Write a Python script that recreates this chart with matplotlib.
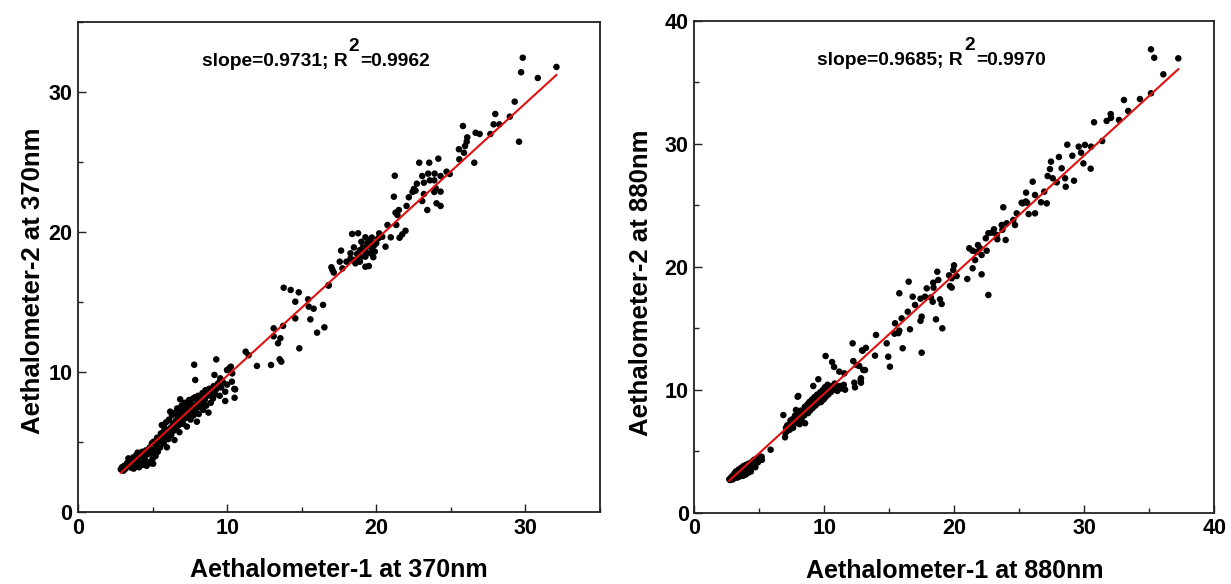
import matplotlib
matplotlib.use("Agg")
import matplotlib.pyplot as plt
from matplotlib.ticker import MultipleLocator

# ---------------- data ----------------
# Panel A: 370 nm
x370 = [2.87, 2.95, 3.05, 3.1, 3.2, 3.3, 3.38, 3.45, 3.55, 3.6, 3.7, 3.74, 3.8, 3.9, 3.95, 4.0, 4.05, 4.1, 4.2, 4.25,
        4.3, 4.39, 4.4, 4.5, 4.55, 4.6, 4.65, 4.75, 4.8, 4.84, 4.9, 4.95, 5.0, 5.04, 5.06, 5.1, 5.2, 5.25, 5.3, 5.35,
        5.45, 5.5, 5.55, 5.62, 5.65, 5.7, 5.75, 5.8, 5.85, 5.9, 5.96, 6.0, 6.05, 6.1, 6.18, 6.2, 6.25, 6.3, 6.35, 6.4,
        6.47, 6.5, 6.55, 6.6, 6.65, 6.7, 6.75, 6.8, 6.85, 6.85, 6.9, 6.95, 7.0, 7.05, 7.1, 7.15, 7.2, 7.25, 7.3, 7.35,
        7.4, 7.45, 7.5, 7.55, 7.6, 7.65, 7.7, 7.75, 7.8, 7.85, 7.9, 7.97, 8.0, 8.05, 8.1, 8.15, 8.2, 8.3, 8.35, 8.4,
        8.5, 8.55, 8.6, 8.7, 8.75, 8.8, 8.87, 8.9, 9.0, 9.05, 9.1, 9.15, 9.2, 9.3, 9.4, 9.5, 9.54, 9.6, 9.7, 9.87,
        9.87, 9.99, 10.0, 10.14, 10.25, 10.32, 10.34, 10.48, 10.5, 10.54, 7.79, 7.86, 9.27,
        11.24, 11.44, 12.0, 12.94, 13.12, 13.12, 13.41, 13.57, 13.75, 13.52, 13.63, 13.79, 14.26, 14.8, 14.57, 14.57,
        14.84, 15.43, 15.47, 15.8, 15.58, 16.43, 16.52, 16.03, 16.81, 16.99, 17.15, 17.73, 17.64, 17.55, 18.0, 18.27,
        18.27, 18.49, 18.71, 18.71, 18.9, 18.6, 19.0, 19.27, 19.27, 19.5, 19.61, 19.9, 19.72, 19.88, 19.4, 19.61,
        19.27, 18.38, 18.78, 20.13, 20.4, 20.62, 20.97, 21.56, 21.74, 21.96, 20.75, 21.34, 21.29, 21.42, 21.51, 21.18,
        21.24, 22.03, 22.18, 22.43, 22.52, 22.63, 22.72, 22.88, 23.08, 23.19, 23.19, 23.08, 23.42, 23.48, 23.55, 23.59,
        23.89, 23.91, 23.98, 23.89, 24.04, 24.16, 24.31, 24.31, 24.31, 24.71, 24.92, 25.54, 25.57, 25.88, 25.95, 26.06,
        26.1, 25.81, 26.57, 26.66, 26.93, 27.65, 27.87, 28.25, 27.98, 28.95, 29.28, 29.57, 29.71, 29.82, 30.83, 32.08,
        18.9, 19.1, 19.3, 19.5, 19.0, 18.5, 19.7, 20.0, 20.2, 19.8, 16.8, 17.06]
y370 = [3.05, 3.2, 2.95, 3.3, 3.1, 3.5, 3.83, 3.3, 3.6, 3.15, 3.9, 3.1, 3.45, 4.05, 3.3, 4.24, 3.7, 3.2, 3.95, 3.45,
        4.3, 3.37, 4.0, 3.7, 4.4, 3.3, 4.1, 3.55, 4.6, 3.48, 4.2, 4.9, 3.8, 3.45, 5.02, 4.45, 4.0, 4.8, 5.3, 4.3,
        5.05, 4.6, 5.6, 6.21, 5.2, 5.7, 4.9, 6.0, 5.45, 6.4, 4.62, 5.8, 5.2, 6.6, 7.17, 6.0, 5.5, 6.9, 6.3, 5.8,
        5.14, 7.1, 6.5, 6.0, 7.4, 6.8, 6.2, 5.7, 8.05, 7.2, 6.6, 7.6, 6.9, 6.3, 7.3, 7.8, 6.7, 7.1, 6.1, 7.6,
        6.9, 8.0, 7.3, 6.6, 7.7, 7.1, 8.1, 6.9, 7.5, 8.2, 7.2, 6.45, 7.8, 8.3, 7.0, 7.5, 8.1, 7.7, 8.5, 7.3,
        8.0, 8.7, 7.6, 8.3, 7.1, 8.8, 8.48, 7.8, 8.6, 8.1, 9.0, 9.79, 8.4, 8.8, 9.2, 8.3, 9.55, 8.9, 9.3, 8.59,
        7.93, 10.14, 9.1, 10.26, 10.38, 9.31, 9.9, 8.79, 8.16, 8.76, 10.52, 9.43, 10.9,
        11.45, 11.2, 10.43, 10.5, 13.12, 12.55, 12.05, 12.41, 13.29, 10.91, 10.74, 16.02, 15.86, 15.69, 15.02, 13.83,
        11.69, 15.19, 14.67, 14.52, 13.76, 14.79, 13.19, 12.81, 16.21, 17.48, 17.1, 17.4, 18.67, 17.88, 17.88, 18.48,
        18.1, 18.0, 18.43, 18.0, 17.88, 17.76, 18.24, 18.24, 17.52, 17.57, 18.48, 18.6, 18.83, 19.07, 19.2, 19.43,
        19.62, 19.86, 19.91, 19.55, 19.66, 18.95, 19.62, 19.59, 19.83, 20.09, 20.5, 20.5, 21.38, 21.21, 21.57, 22.52,
        24.02, 21.86, 22.48, 22.86, 23.07, 22.95, 23.45, 24.95, 24.0, 23.52, 22.71, 22.21, 21.57, 24.17, 24.95, 23.69,
        23.69, 24.17, 23.12, 22.86, 22.05, 25.24, 24.0, 22.88, 21.86, 24.31, 24.14, 25.91, 25.19, 25.66, 26.14, 26.45,
        26.76, 27.57, 24.95, 27.09, 27.0, 27.0, 27.69, 27.69, 28.43, 28.24, 29.31, 26.45, 31.41, 32.45, 31.0, 31.79,
        18.7, 18.9, 18.6, 19.0, 19.3, 18.9, 19.6, 19.2, 19.9, 18.2, 16.17, 17.3]

# Panel B: 880 nm
x880 = [2.69, 2.75, 2.85, 2.95, 3.0, 3.05, 3.1, 3.15, 3.2, 3.25, 3.3, 3.35, 3.4, 3.45, 3.5, 3.55, 3.6, 3.65, 3.7, 3.75,
        3.8, 3.85, 3.9, 3.95, 4.0, 4.05, 4.1, 4.15, 4.2, 4.3, 4.35, 4.45, 4.5, 4.6, 4.7, 4.8, 4.9, 5.05, 5.18, 5.2,
        5.87, 6.85, 6.98, 7.0, 7.05, 7.1, 7.15, 7.2, 7.3, 7.35, 7.4, 7.5, 7.55, 7.6, 7.7, 7.75, 7.82, 7.85, 7.9, 8.0,
        7.95, 8.0, 8.05, 8.1, 8.15, 8.2, 8.25, 8.3, 8.4, 8.45, 8.5, 8.52, 8.55, 8.6, 8.7, 8.75, 8.8, 8.85, 8.9, 9.0,
        9.05, 9.1, 9.15, 9.2, 9.25, 9.3, 9.4, 9.45, 9.5, 9.54, 9.6, 9.7, 9.75, 9.8, 9.9, 9.95, 10.0, 10.05, 10.1, 10.2,
        10.25, 10.3, 10.4, 10.5, 10.6, 10.7, 10.8, 10.9, 11.0, 11.15, 11.2, 11.3, 11.5, 11.6, 10.1, 10.6, 10.75,
        12.49, 12.31, 12.36, 12.82, 12.8, 12.23, 13.0, 12.95, 13.2, 11.54, 12.18, 12.69, 12.82, 12.9, 13.13, 13.9,
        13.98, 14.8, 14.92, 15.05, 15.44, 15.4, 15.7, 15.77, 15.95, 15.77, 16.03, 16.42, 16.49, 16.59, 16.8, 16.98,
        17.4, 17.49, 17.49, 17.4, 17.75, 17.88, 18.2, 18.34, 18.38, 18.4, 18.59, 18.69, 18.77, 18.9, 19.03, 19.08,
        19.6, 19.67, 19.8, 19.8, 19.92, 19.98, 20.18, 21.0, 21.15, 21.4, 21.41, 21.6, 21.7, 21.82, 21.98, 22.1,
        22.1, 22.42, 22.49, 22.62, 22.62, 22.9, 23.05, 23.26, 23.31, 23.65, 23.7, 23.77, 23.95, 24.03, 24.54, 24.67,
        24.8, 25.26, 25.52, 25.6, 25.72, 26.03, 26.21, 25.18, 25.5, 26.21, 26.67, 27.11, 26.92, 27.18, 27.36, 27.44,
        27.57, 27.88, 28.05, 28.26, 28.52, 28.57, 28.69, 29.08, 29.21, 29.57, 29.75, 29.93, 30.05, 30.49, 30.52, 30.75,
        31.38, 31.72, 32.03, 32.05, 32.67, 33.05, 33.38, 34.28, 35.13, 35.13, 35.38, 36.08, 37.23]
y880 = [2.72, 2.66, 2.9, 2.7, 3.05, 2.8, 3.2, 2.9, 3.35, 3.0, 2.85, 3.2, 3.5, 3.05, 2.95, 3.3, 3.65, 3.1, 3.4, 3.0,
        3.8, 3.25, 3.55, 3.1, 3.9, 3.4, 3.7, 3.25, 4.0, 3.6, 3.35, 4.15, 3.8, 4.3, 3.7, 4.4, 4.1, 4.55, 4.55, 4.3,
        5.12, 7.94, 6.13, 6.5, 6.9, 6.6, 7.1, 6.8, 7.2, 6.75, 7.5, 7.1, 7.6, 6.9, 7.4, 7.9, 8.35, 7.3, 7.7, 9.49,
        9.43, 7.5, 8.0, 7.2, 7.8, 8.3, 7.6, 8.0, 8.2, 7.9, 8.6, 7.27, 8.2, 8.4, 8.8, 8.1, 8.5, 9.0, 8.3, 8.7,
        9.2, 8.5, 10.3, 8.9, 9.4, 8.7, 9.1, 9.6, 8.9, 10.85, 9.3, 9.8, 9.0, 9.5, 10.0, 9.2, 9.7, 10.2, 9.4, 9.9,
        10.4, 9.6, 10.1, 9.8, 10.3, 10.0, 10.5, 10.2, 9.9, 11.47, 10.3, 10.1, 10.4, 10.0, 12.74, 12.25, 11.85,
        12.0, 10.57, 10.19, 10.57, 10.8, 12.33, 11.6, 13.17, 13.4, 11.33, 13.77, 11.93, 10.93, 13.2, 11.6, 12.77,
        14.45, 13.77, 12.68, 11.87, 15.4, 14.55, 14.6, 14.8, 15.8, 17.84, 13.37, 16.34, 18.78, 14.91, 17.56, 16.89,
        15.6, 15.94, 13.01, 17.4, 17.56, 18.24, 17.5, 17.15, 18.7, 18.3, 15.72, 19.59, 18.92, 17.35, 16.97, 14.99,
        19.3, 18.43, 18.3, 19.06, 19.73, 20.11, 19.24, 19.0, 21.5, 21.3, 19.87, 20.54, 21.2, 21.76, 21.5, 20.95,
        19.38, 22.31, 21.3, 22.72, 17.7, 22.77, 23.04, 22.58, 22.23, 23.39, 23.0, 24.83, 22.17, 23.53, 23.8, 23.39,
        24.34, 25.15, 26.02, 25.2, 24.28, 26.91, 24.34, 25.2, 25.3, 25.83, 25.24, 25.15, 26.1, 27.37, 27.94, 28.54,
        27.19, 26.86, 28.92, 28.0, 27.19, 26.5, 29.92, 29.02, 26.99, 29.76, 29.27, 28.4, 29.9, 27.97, 29.76, 31.74,
        30.22, 31.85, 32.41, 32.1, 31.93, 33.55, 32.66, 33.63, 34.1, 37.67, 36.99, 35.64, 36.94]

# linear fits as printed on the chart
slopes = [0.9731, 0.9685]
intercepts = [0.0, 0.0]
r2s = [0.9962, 0.9970]
xlabels = ["Aethalometer-1 at 370nm", "Aethalometer-1 at 880nm"]
ylabels = ["Aethalometer-2 at 370nm", "Aethalometer-2 at 880nm"]
lims = [35, 40]

# ---------------- figure ----------------
plt.rcParams['font.family'] = ['Liberation Sans', 'DejaVu Sans']
plt.rcParams['font.weight'] = 'bold'

fig = plt.figure(figsize=(12.31, 5.84), dpi=100)
axA = fig.add_axes([78 / 1231, 1 - 512 / 584, 522 / 1231, 490 / 584])
axB = fig.add_axes([694.3 / 1231, 1 - 512.7 / 584, 520 / 1231, 492 / 584])

datasets = [(x370, y370), (x880, y880)]
fig.canvas.draw()
renderer = fig.canvas.get_renderer()

ylab_x = [-0.064, -0.080]
ylab_y = [0.471, 0.467]
for i, ax in enumerate([axA, axB]):
    xs, ys = datasets[i]
    ax.scatter(xs, ys, s=22, c='black', edgecolors='none', zorder=3)
    x0, x1 = min(xs), max(xs)
    ax.plot([x0, x1], [intercepts[i] + slopes[i] * x0, intercepts[i] + slopes[i] * x1],
            color='#e01010', lw=1.5, zorder=4)
    ax.set_xlim(0, lims[i])
    ax.set_ylim(0, lims[i])
    ax.xaxis.set_major_locator(MultipleLocator(10))
    ax.yaxis.set_major_locator(MultipleLocator(10))
    ax.xaxis.set_minor_locator(MultipleLocator(5))
    ax.yaxis.set_minor_locator(MultipleLocator(5))
    ax.tick_params(which='both', direction='in', top=False, right=False, width=1.0, color='#222222')
    ax.tick_params(which='major', length=6, labelsize=15.5, pad=4)
    ax.tick_params(which='minor', length=3.5)
    for lab in ax.get_xticklabels() + ax.get_yticklabels():
        lab.set_fontweight('bold')
    for sp in ax.spines.values():
        sp.set_linewidth(1.3)
        sp.set_color('#222222')
    ax.set_xlabel(xlabels[i], fontsize=18, fontweight='bold')
    ax.set_ylabel(ylabels[i], fontsize=18.5, fontweight='bold')
    ax.xaxis.set_label_coords(0.5, -0.094)
    ax.yaxis.set_label_coords(ylab_x[i], ylab_y[i])

    # annotation "slope=...; R^2=..."
    fs = 13.8
    left_txt = "slope=%.4f; R" % slopes[i]
    right_txt = "=%.4f" % r2s[i]
    tl = ax.text(0, 0, left_txt, fontsize=fs, fontweight='bold', transform=ax.transAxes)
    tr = ax.text(0, 0, right_txt, fontsize=fs, fontweight='bold', transform=ax.transAxes)
    wl = tl.get_window_extent(renderer).width
    wr = tr.get_window_extent(renderer).width
    tl.remove(); tr.remove()
    gap = 13.0
    axw = ax.get_window_extent(renderer).width
    total = wl + gap + wr
    cx = 0.456
    start = cx - (total / 2) / axw
    ybase = 0.91
    ax.text(start, ybase, left_txt, fontsize=fs, fontweight='bold', transform=ax.transAxes, va='baseline')
    ax.text(start + (wl + gap) / axw, ybase, right_txt, fontsize=fs, fontweight='bold',
            transform=ax.transAxes, va='baseline')
    ax.text(start + (wl + gap / 2) / axw, ybase + 0.031, "2", fontsize=fs, fontweight='bold',
            transform=ax.transAxes, va='baseline', ha='center')

fig.savefig("out.png", dpi=100)
